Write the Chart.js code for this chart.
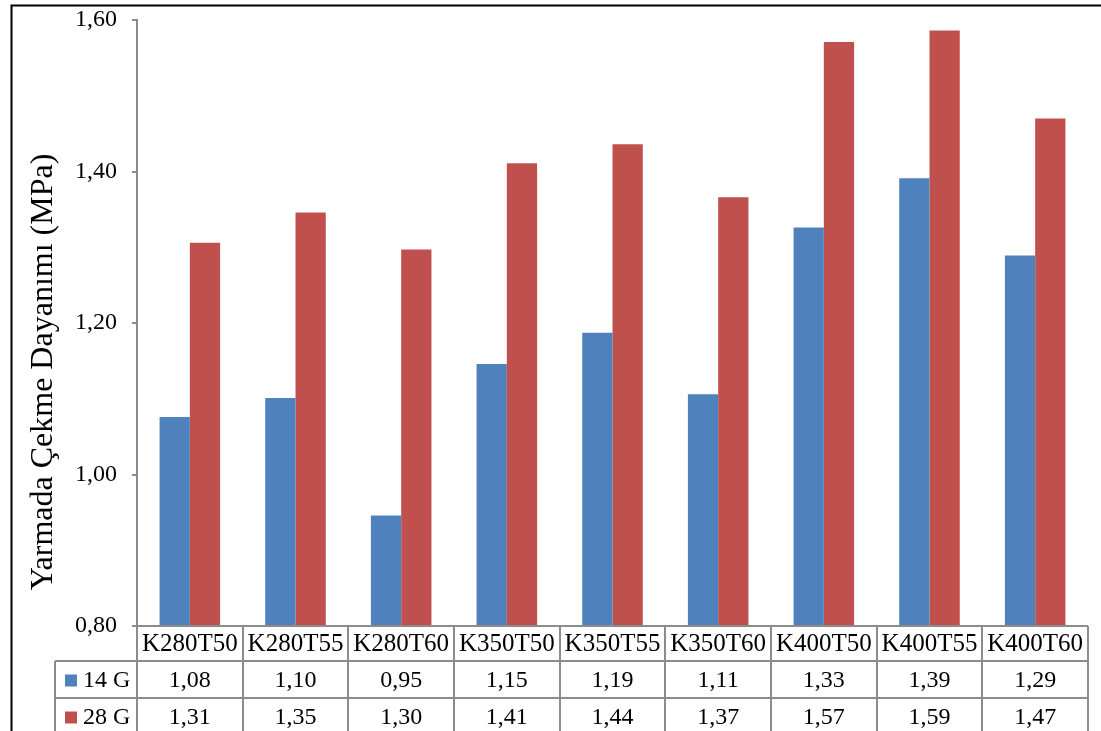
<!DOCTYPE html>
<html>
<head>
<meta charset="utf-8">
<script src="https://cdn.jsdelivr.net/npm/chart.js@4"></script>
<style>
html, body { margin: 0; padding: 0; background: #fff; }
</style>
</head>
<body>
<canvas id="chart" width="1101" height="731"></canvas>
<script>
const categories = ['K280T50', 'K280T55', 'K280T60', 'K350T50', 'K350T55', 'K350T60', 'K400T50', 'K400T55', 'K400T60'];
const seriesNames = ['14 G', '28 G'];
const values14G = [1.076, 1.101, 0.946, 1.146, 1.187, 1.106, 1.326, 1.391, 1.289];
const values28G = [1.306, 1.346, 1.297, 1.411, 1.436, 1.366, 1.571, 1.586, 1.470];
const yTicks = [0.8, 1.0, 1.2, 1.4, 1.6];
const yTitle = 'Yarmada Çekme Dayanımı (MPa)';

const colors = ['#4F81BD', '#C0504D'];
const serif = '"Liberation Serif", "Times New Roman", serif';

function fmt(v) {
    return v.toFixed(2).replace('.', ',');
}

// draws the data table, the rotated axis title and the frame
const tablePlugin = {
    id: 'tablePlugin',
    afterDraw(chart) {
        const ctx = chart.ctx;
        const area = chart.chartArea;
        const xs = chart.scales.x;
        const step = (area.right - area.left) / categories.length;
        const headerH = 35;
        const rowH = 37;
        const legendLeft = 55;
        const rows = [values14G, values28G];
        const bottom = chart.height + 5;

        ctx.save();
        // grid lines of the table
        ctx.strokeStyle = '#8c8c8c';
        ctx.lineWidth = 2;
        ctx.beginPath();
        ctx.moveTo(area.left, area.bottom);
        ctx.lineTo(area.right, area.bottom);
        for (let r = 0; r < rows.length; r++) {
            const y = area.bottom + headerH + r * rowH;
            ctx.moveTo(legendLeft, y);
            ctx.lineTo(area.right, y);
        }
        for (let i = 0; i <= categories.length; i++) {
            const x = Math.round(xs.getPixelForValue(i) - step / 2);
            ctx.moveTo(x, area.bottom);
            ctx.lineTo(x, bottom);
        }
        ctx.moveTo(legendLeft, area.bottom + headerH);
        ctx.lineTo(legendLeft, bottom);
        ctx.stroke();

        // header labels
        ctx.fillStyle = '#000';
        ctx.textAlign = 'center';
        ctx.textBaseline = 'middle';
        ctx.font = '25px ' + serif;
        categories.forEach((c, i) => {
            ctx.fillText(c, xs.getPixelForValue(i), area.bottom + headerH / 2 + 1);
        });

        // value rows + legend keys
        ctx.font = '24px ' + serif;
        rows.forEach((vals, r) => {
            const cy = area.bottom + headerH + r * rowH + rowH / 2 + 1;
            vals.forEach((v, i) => {
                ctx.textAlign = 'center';
                ctx.fillText(fmt(v), xs.getPixelForValue(i), cy);
            });
            ctx.fillStyle = colors[r];
            ctx.fillRect(65, cy - 6, 12, 12);
            ctx.fillStyle = '#000';
            ctx.textAlign = 'left';
            ctx.fillText(seriesNames[r], 83, cy);
        });

        // y axis title
        ctx.save();
        ctx.translate(44, 372);
        ctx.rotate(-Math.PI / 2);
        ctx.textAlign = 'center';
        ctx.font = '32px ' + serif;
        ctx.fillText(yTitle, 0, 0);
        ctx.restore();

        // outer frame
        ctx.strokeStyle = '#000';
        ctx.lineWidth = 2;
        ctx.strokeRect(11.5, 5.5, chart.width + 20, chart.height + 20);
        ctx.restore();
    }
};

new Chart(document.getElementById('chart'), {
    type: 'bar',
    data: {
        labels: categories,
        datasets: [
            { label: seriesNames[0], data: values14G, backgroundColor: colors[0] },
            { label: seriesNames[1], data: values28G, backgroundColor: colors[1] }
        ]
    },
    options: {
        responsive: false,
        devicePixelRatio: 1,
        animation: false,
        layout: { padding: { top: 20, right: 13, bottom: 105, left: 0 } },
        datasets: { bar: { categoryPercentage: 0.573, barPercentage: 1, borderWidth: 0 } },
        plugins: { legend: { display: false }, tooltip: { enabled: false } },
        scales: {
            x: {
                ticks: { display: false },
                grid: { display: false },
                border: { display: false },
                afterFit(s) { s.height = 0; s.paddingLeft = 0; s.paddingRight = 0; }
            },
            y: {
                min: 0.8,
                max: 1.6,
                afterBuildTicks(s) { s.ticks = yTicks.map(v => ({ value: v })); },
                ticks: {
                    callback: v => fmt(v),
                    color: '#000',
                    font: { family: serif, size: 24 },
                    padding: 15
                },
                grid: { drawOnChartArea: false, tickLength: 5, color: '#8c8c8c', lineWidth: 2 },
                border: { color: '#8c8c8c', width: 2 },
                afterFit(s) { s.width = 137; s.paddingTop = 0; s.paddingBottom = 0; }
            }
        }
    },
    plugins: [tablePlugin]
});
</script>
</body>
</html>
